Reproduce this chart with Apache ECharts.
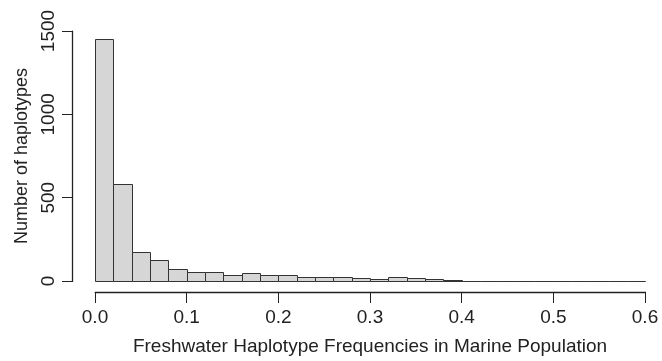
<!DOCTYPE html>
<html>
<head>
<meta charset="utf-8">
<script src="https://cdn.jsdelivr.net/npm/echarts@6/dist/echarts.min.js"></script>
<style>
  html, body { margin: 0; padding: 0; background: #fff; }
  #chart { width: 662px; height: 361px; }
</style>
</head>
<body>
<div id="chart"></div>
<script>
// histogram bins (left edge, right edge) and counts
const binLeft = [0.00, 0.02, 0.04, 0.06, 0.08, 0.10, 0.12, 0.14, 0.16, 0.18,
                 0.20, 0.22, 0.24, 0.26, 0.28, 0.30, 0.32, 0.34, 0.36, 0.38,
                 0.40, 0.42, 0.44, 0.46, 0.48, 0.50, 0.52, 0.54, 0.56, 0.58];
const binRight = [0.02, 0.04, 0.06, 0.08, 0.10, 0.12, 0.14, 0.16, 0.18, 0.20,
                  0.22, 0.24, 0.26, 0.28, 0.30, 0.32, 0.34, 0.36, 0.38, 0.40,
                  0.42, 0.44, 0.46, 0.48, 0.50, 0.52, 0.54, 0.56, 0.58, 0.60];
const counts = [1450, 580, 175, 127, 70, 54, 55, 35, 50, 38,
                36, 26, 24, 22, 16, 14, 26, 16, 12, 8,
                0, 0, 0, 0, 0, 0, 0, 0, 0, 0];

const xTicks = [0, 0.1, 0.2, 0.3, 0.4, 0.5, 0.6];
const yTicks = [0, 500, 1000, 1500];

const font = 'Liberation Sans, Arial, sans-serif';
const ink = '#222222';
const xOffset = 11;  // R style detached axes
const yOffset = 23;

const chart = echarts.init(document.getElementById('chart'));

const data = binLeft.map((l, i) => [l, binRight[i], counts[i]]);

chart.setOption({
  animation: false,
  grid: { left: 95, right: 17, top: 31, bottom: 80 },
  xAxis: {
    type: 'value',
    min: xTicks[0],
    max: xTicks[xTicks.length - 1],
    interval: 0.1,
    offset: xOffset,
    name: 'Freshwater Haplotype Frequencies in Marine Population',
    nameLocation: 'middle',
    nameGap: 45,
    nameTextStyle: { fontFamily: font, fontSize: 19, color: ink },
    axisLine: { show: true, onZero: false, lineStyle: { color: ink, width: 1 } },
    axisTick: { show: true, length: 11 },
    axisLabel: {
      margin: 16,
      fontFamily: font, fontSize: 19, color: ink,
      formatter: v => v.toFixed(1)
    },
    splitLine: { show: false }
  },
  yAxis: {
    type: 'value',
    min: yTicks[0],
    max: yTicks[yTicks.length - 1],
    interval: 500,
    offset: yOffset,
    name: 'Number of haplotypes',
    nameLocation: 'middle',
    nameGap: 41,
    nameTextStyle: { fontFamily: font, fontSize: 18, color: ink },
    axisLine: { show: true, onZero: false, lineStyle: { color: ink, width: 1 } },
    axisTick: { show: true, length: 10 },
    axisLabel: {
      rotate: 90,
      margin: 14,
      fontFamily: font, fontSize: 19, color: ink,
      formatter: v => String(v)
    },
    splitLine: { show: false }
  },
  series: [{
    type: 'custom',
    data: data,
    encode: { x: [0, 1], y: 2 },
    renderItem: function (params, api) {
      const p0 = api.coord([api.value(0), 0]);
      const p1 = api.coord([api.value(1), api.value(2)]);
      return {
        type: 'rect',
        shape: {
          x: Math.round(p0[0]) + 0.5,
          y: Math.round(p1[1]) + 0.5,
          width: Math.round(p1[0]) - Math.round(p0[0]),
          height: Math.round(p0[1]) - Math.round(p1[1])
        },
        style: { fill: '#d6d6d6', stroke: '#333333', lineWidth: 1 }
      };
    }
  }]
});

// axis lines from first to last tick, placed through the chart's own scales
const o = chart.convertToPixel({ gridIndex: 0 }, [xTicks[0], yTicks[0]]);
const xe = chart.convertToPixel({ gridIndex: 0 }, [xTicks[xTicks.length - 1], yTicks[0]]);
const ye = chart.convertToPixel({ gridIndex: 0 }, [xTicks[0], yTicks[yTicks.length - 1]]);
const yLine = Math.round(o[1]) + xOffset + 0.5;
const xLine = Math.round(o[0]) - yOffset + 0.5;

chart.setOption({
  graphic: [{
    type: 'line', z: 100,
    shape: { x1: Math.round(o[0]), y1: yLine, x2: Math.round(xe[0]) + 1, y2: yLine },
    style: { stroke: ink, lineWidth: 1.3 }
  }, {
    type: 'line', z: 100,
    shape: { x1: xLine, y1: Math.round(o[1]) + 1, x2: xLine, y2: Math.round(ye[1]) },
    style: { stroke: ink, lineWidth: 1.3 }
  }]
});
</script>
</body>
</html>
